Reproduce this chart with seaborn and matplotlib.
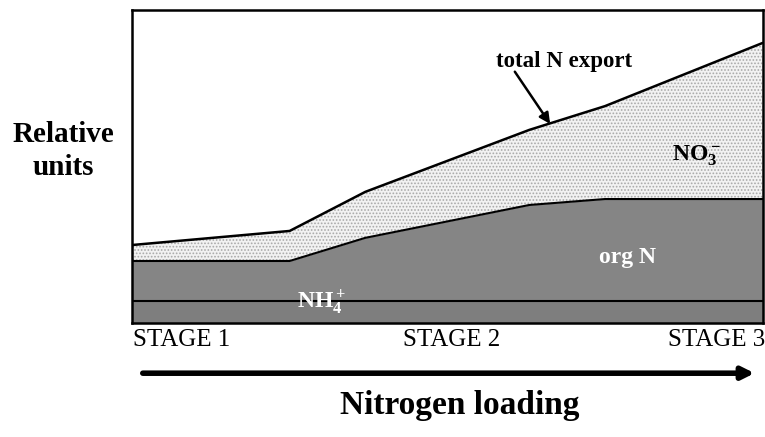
import numpy as np
import pandas as pd
import matplotlib
matplotlib.use('Agg')
import matplotlib.pyplot as plt
import seaborn as sns

# nitrogen loading (relative position between STAGE 1 and STAGE 3)
loading = [0, 25, 37, 63, 75, 100]
# layer sizes in relative units
nh4 = [7.0, 7.0, 7.0, 7.0, 7.0, 7.0]
org_n = [12.8, 12.8, 20.2, 30.7, 32.6, 32.6]
no3 = [5.1, 9.6, 14.7, 24.0, 29.7, 49.9]

stage_labels = ['STAGE 1', 'STAGE 2', 'STAGE 3']

sns.set_theme(style='white')
plt.rcParams['font.family'] = ['Liberation Serif', 'DejaVu Serif']
plt.rcParams['text.color'] = 'black'
plt.rcParams['mathtext.fontset'] = 'custom'
plt.rcParams['mathtext.rm'] = 'Liberation Serif'
plt.rcParams['mathtext.bf'] = 'Liberation Serif:bold'
plt.rcParams['hatch.color'] = '#9a9a9a'
plt.rcParams['hatch.linewidth'] = 0.8

df = pd.DataFrame({'loading': loading, 'nh4': nh4, 'org_n': org_n, 'no3': no3})
df['nh4_top'] = df['nh4']
df['org_top'] = df['nh4_top'] + df['org_n']
df['total'] = df['org_top'] + df['no3']

fig = plt.figure(figsize=(7.65, 4.37), dpi=100)
ax = fig.add_axes([0.1725, 0.261, 0.8245, 0.716])

# filled layers
ax.fill_between(df['loading'], 0, df['nh4_top'], color='#7e7e7e', lw=0)
ax.fill_between(df['loading'], df['nh4_top'], df['org_top'], color='#858585', lw=0)
ax.fill_between(df['loading'], df['org_top'], df['total'], facecolor='#f2f2f2',
                hatch='.....', edgecolor='#a8a8a8', lw=0)

# boundary lines
sns.lineplot(data=df, x='loading', y='total', color='black', lw=1.8, ax=ax)
sns.lineplot(data=df, x='loading', y='org_top', color='black', lw=1.5, ax=ax)
sns.lineplot(data=df, x='loading', y='nh4_top', color='black', lw=1.5, ax=ax)

ax.set_xlim(0, 100)
ax.set_ylim(0, 100)
ax.set_xticks([])
ax.set_yticks([])
ax.set_xlabel('')
ax.set_ylabel('')
for s in ax.spines.values():
    s.set_color('black')
    s.set_linewidth(1.8)

# layer labels
ax.text(89.5, 53.5, r'$\mathbf{NO_3^-}$', fontsize=17, ha='center', va='center')
ax.text(78.5, 21, 'org N', fontsize=17, fontweight='bold', color='white',
        ha='center', va='center')
ax.text(30, 6.5, r'$\mathbf{NH_4^+}$', fontsize=17, color='white',
        ha='center', va='center')
ax.text(68.5, 83.4, 'total N export', fontsize=16.5, fontweight='bold',
        ha='center', va='center')
ax.annotate('', xy=(66.3, 63.6), xytext=(60.7, 80.3),
            arrowprops=dict(arrowstyle='-|>', color='black', lw=1.8,
                            mutation_scale=16, shrinkA=0, shrinkB=0))

# axis titles and stage labels
fig.text(0.083, 0.655, 'Relative\nunits', fontsize=21, fontweight='bold',
         ha='center', va='center', linespacing=1.3)
fig.text(0.174, 0.222, stage_labels[0], fontsize=18, ha='left', va='center')
fig.text(0.591, 0.222, stage_labels[1], fontsize=18, ha='center', va='center')
fig.text(1.0, 0.222, stage_labels[2], fontsize=18, ha='right', va='center')

fig.add_artist(matplotlib.patches.FancyArrowPatch(
    (0.183, 0.146), (0.99, 0.146), transform=fig.transFigure,
    arrowstyle='-|>', mutation_scale=18, lw=4, color='black'))

fig.text(0.601, 0.073, 'Nitrogen loading', fontsize=24, fontweight='bold',
         ha='center', va='center')

fig.savefig('out.png', dpi=100)
